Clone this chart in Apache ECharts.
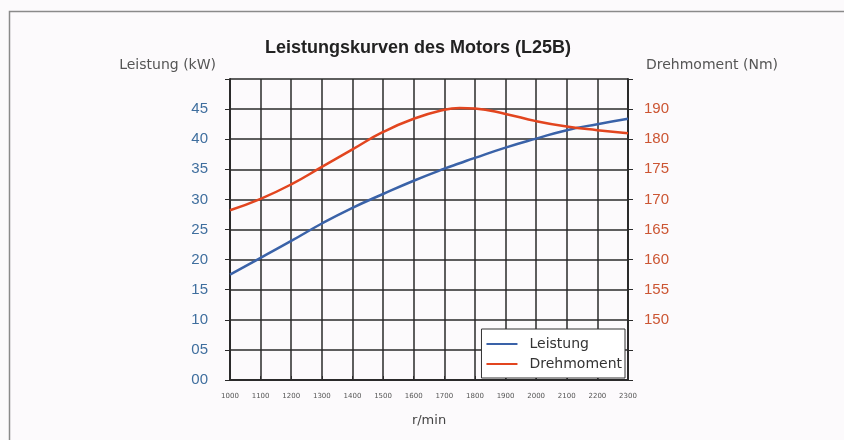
<!DOCTYPE html>
<html>
<head>
<meta charset="utf-8">
<script src="https://cdn.jsdelivr.net/npm/echarts@6/dist/echarts.min.js"></script>
<style>
html,body{margin:0;padding:0;background:#fcfafc;}
#c{width:844px;height:440px;}
</style>
</head>
<body>
<div id="c"></div>
<script>
var titleText = 'Leistungskurven des Motors (L25B)';
var rpm = [1000,1100,1200,1300,1400,1500,1600,1700,1750,1800,1900,2000,2100,2200,2300];
var leistung = [17.5,20.3,23.1,26.0,28.6,30.9,33.1,35.1,36.0,36.9,38.6,40.1,41.5,42.5,43.4];
var drehmoment = [168.2,170.1,172.5,175.4,178.3,181.2,183.4,184.9,185.2,185.1,184.2,183.0,182.1,181.5,181.0];
var leftTickLabels = ['00','05','10','15','20','25','30','35','40','45',''];
var rightTickLabels = ['','','150','155','160','165','170','175','180','190',''];
var xTickLabels = ['1000','1100','1200','1300','1400','1500','1600','1700','1800','1900','2000','2100','2200','2300'];

var chart = echarts.init(document.getElementById('c'));
var gridColor = '#2a2a2a';
chart.setOption({
  backgroundColor: '#fcfafc',
  animation: false,
  title: {
    text: titleText, left: 413, top: 34, textAlign: 'center',
    textStyle: {fontFamily: 'Liberation Sans', fontSize: 18, fontWeight: 'bold', color: '#222'}
  },
  graphic: [{
    type: 'rect', shape: {x: 9.5, y: 11.5, width: 860, height: 460},
    style: {fill: 'none', stroke: '#8a8a8a', lineWidth: 1.5}, silent: true
  }],
  legend: {
    right: 219, bottom: 62, orient: 'vertical',
    backgroundColor: '#ffffff', borderColor: '#333', borderWidth: 1,
    padding: [8, 3, 7, 5], itemGap: 6, itemWidth: 31, itemHeight: 2, icon: 'rect',
    textStyle: {fontFamily: 'DejaVu Sans', fontSize: 14, color: '#333', padding: [0, 0, 0, 7]},
    data: ['Leistung', 'Drehmoment']
  },
  grid: {left: 230, right: 216, top: 79, bottom: 60},
  xAxis: {
    type: 'value', min: 1000, max: 2300, interval: 100,
    name: 'r/min', nameLocation: 'middle', nameGap: 34,
    nameTextStyle: {fontFamily: 'DejaVu Sans', fontSize: 13, color: '#444'},
    axisLine: {lineStyle: {color: gridColor, width: 2}},
    axisTick: {inside: true, length: 4, lineStyle: {color: gridColor}},
    axisLabel: {fontFamily: 'DejaVu Sans', fontSize: 7, color: '#555', margin: 13,
      formatter: function (v) { var i = Math.round((v - 1000) / 100); return xTickLabels[i] || ''; }},
    splitLine: {show: true, lineStyle: {color: gridColor, width: 1.5}}
  },
  yAxis: [{
    type: 'value', min: 0, max: 50, interval: 5,
    name: 'Leistung (kW)', nameLocation: 'end', nameGap: 7,
    nameTextStyle: {fontFamily: 'DejaVu Sans', fontSize: 14, color: '#555', align: 'right', padding: [0, 14, 0, 0]},
    axisLine: {show: true, lineStyle: {color: gridColor, width: 2}},
    axisTick: {show: true, length: 5, lineStyle: {color: gridColor}},
    axisLabel: {fontFamily: 'Liberation Sans', fontSize: 15, color: '#3f6e9e', margin: 22,
      formatter: function (v) { return leftTickLabels[Math.round(v / 5)]; }},
    splitLine: {show: true, lineStyle: {color: gridColor, width: 1.5}}
  }, {
    type: 'value', min: 140, max: 190, interval: 5, position: 'right',
    name: 'Drehmoment (Nm)', nameLocation: 'end', nameGap: 7,
    nameTextStyle: {fontFamily: 'DejaVu Sans', fontSize: 14, color: '#555', align: 'left', padding: [0, 0, 0, 18]},
    axisLine: {show: true, lineStyle: {color: gridColor, width: 2}},
    axisTick: {show: true, length: 5, lineStyle: {color: gridColor}},
    axisLabel: {fontFamily: 'Liberation Sans', fontSize: 15, color: '#cc5533', margin: 16,
      formatter: function (v) { return rightTickLabels[Math.round((v - 140) / 5)]; }},
    splitLine: {show: false}
  }],
  series: [{
    name: 'Leistung', type: 'line', yAxisIndex: 0, smooth: true, symbol: 'none',
    lineStyle: {color: '#3a62a8', width: 2.5}, itemStyle: {color: '#3a62a8'},
    data: rpm.map(function (r, i) { return [r, leistung[i]]; })
  }, {
    name: 'Drehmoment', type: 'line', yAxisIndex: 1, smooth: true, symbol: 'none',
    lineStyle: {color: '#e2451f', width: 2.5}, itemStyle: {color: '#e2451f'},
    data: rpm.map(function (r, i) { return [r, drehmoment[i]]; })
  }]
});
</script>
</body>
</html>
